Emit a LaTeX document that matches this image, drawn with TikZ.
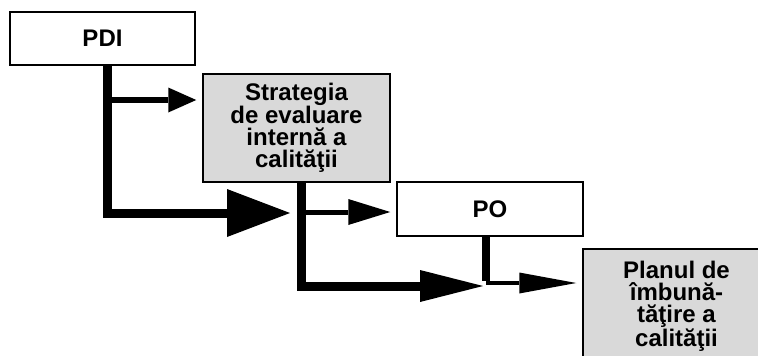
\documentclass[tikz,border=0pt]{standalone}
\usepackage{fontspec}
\setmainfont{Liberation Sans}
\usetikzlibrary{arrows.meta}
\tikzset{
  box/.style={draw, line width=1.5pt, fill=white, align=center, inner sep=0pt,
    font=\bfseries\fontsize{24}{22}\selectfont},
  graybox/.style={box, fill=black!15},
  trunk/.style={line width=9pt, line join=miter},
}
\begin{document}
\begin{tikzpicture}[x=1pt,y=-1pt]
  \useasboundingbox (0,0) rectangle (758,356);
  \clip (0,0) rectangle (758,356);

  \node[box, minimum width=185pt, minimum height=53pt] (pdi) at (102.5,38.5) {PDI};
  \node[graybox, minimum width=187pt, minimum height=108pt] (strat) at (296.5,128) {Strategia\\de evaluare\\internă a\\calităţii};
  \node[box, minimum width=186pt, minimum height=54pt] (po) at (490,209) {PO};
  \node[graybox, minimum width=187pt, minimum height=114pt] (plan) at (676.5,306) {Planul de\\îmbună-\\tăţire a\\calităţii};

  \coordinate (j1) at (107,100);
  \coordinate (t1) at (290,213);
  \coordinate (j2) at (301,212);
  \coordinate (t2) at (483,286);
  \coordinate (j3) at (486,283);

  \draw[trunk,-{Triangle[length=63pt,width=48pt,line width=0pt]}] ([xshift=4.5pt]pdi.south) |- (t1);
  \draw[line width=6pt,-{Triangle[length=28pt,width=25pt,line width=0pt]}] (j1) -- ([xshift=-6pt]strat.west |- j1);

  \draw[trunk,-{Triangle[length=63pt,width=32pt,line width=0pt]}] ([xshift=4.5pt]strat.south) |- (t2);
  \draw[line width=5pt,-{Triangle[length=42pt,width=26pt,line width=0pt]}] (j2) -- ([xshift=-6pt]po.west |- j2);

  \draw[line width=8pt] ([xshift=-4pt]po.south) -- ([yshift=2pt]j3);
  \draw[line width=4pt,-{Triangle[length=57pt,width=21pt,line width=0pt]}] (j3) -- ([xshift=-6pt]plan.west |- j3);

\end{tikzpicture}
\end{document}
